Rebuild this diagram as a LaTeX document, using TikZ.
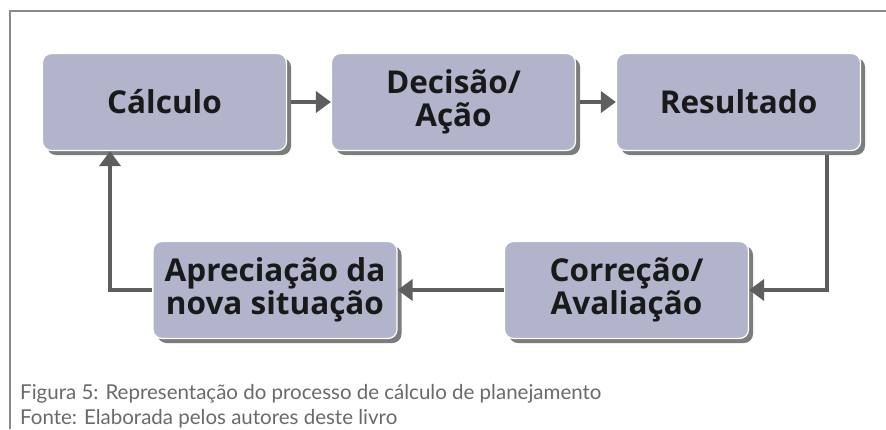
\documentclass[tikz,border=0pt]{standalone}
\usepackage{fontspec}
\setmainfont{Open Sans}
\newfontfamily\capfont{Lato}
\usetikzlibrary{arrows.meta}
\definecolor{boxfill}{HTML}{B2B4CC}
\definecolor{shadowc}{HTML}{7C7C7C}
\definecolor{linec}{HTML}{5E5E5E}
\definecolor{framec}{HTML}{8A8A8A}
\definecolor{capc}{HTML}{6A6A6A}
\tikzset{
  stepbox/.style={draw=white, line width=1.2pt, fill=boxfill, rounded corners=9pt,
    minimum width=244pt, minimum height=97pt, align=center,
    font=\bfseries\fontsize{31.5}{33}\selectfont, text=black!90, inner sep=0pt,
    preaction={draw=none, fill=shadowc, rounded corners=9pt, transform canvas={xshift=4.5pt, yshift=-4.5pt}}},
  flow/.style={draw=linec, line width=4pt, -{Triangle[width=21pt,length=15pt]}},
  captxt/.style={font=\capfont\fontsize{20.5}{25}\selectfont, text=capc, anchor=base west, inner sep=0pt}
}
\begin{document}
\begin{tikzpicture}[x=1pt,y=-1pt]
\useasboundingbox (0,0) rectangle (886,429);
\fill[white] (0,0) rectangle (886,429);
\draw[framec, line width=2pt] (10,429) -- (10,11) -- (886,11);
\node[stepbox] (calc) at (164.5,102) {Cálculo};
\node[stepbox] (dec) at (453.5,102) {Decisão/\\Ação};
\node[stepbox] (res) at (738.5,102) {Resultado};
\node[stepbox] (cor) at (626.5,290) {Correção/\\Avaliação};
\node[stepbox] (apr) at (275,290) {Apreciação da\\nova situação};
\coordinate (c1) at (827,290);
\coordinate (c2) at (110,290);
\draw[flow] (calc.east) ++(4,0) -- (dec.west);
\draw[flow] (dec.east) ++(4,0) -- (res.west);
\draw[flow] (res.south -| c1) ++(0,4) |- (cor.east);
\draw[flow] (cor.west) -- (apr.east);
\draw[flow] (apr.west) -- (c2) -- (calc.south -| c2);
\node[captxt] (cap1) at (20,399) {Figura 5: Representação do processo de cálculo de planejamento};
\node[captxt] (cap2) at (20,424) {Fonte: Elaborada pelos autores deste livro};
\end{tikzpicture}
\end{document}
